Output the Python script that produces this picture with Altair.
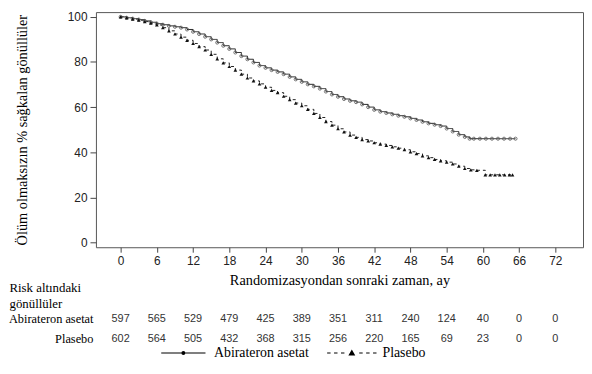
import altair as alt
import pandas as pd

groups = ["Abirateron asetat", "Plasebo"]

abi_month = [0, 1, 2, 3, 4, 5, 6, 7, 8, 9, 10, 11, 12, 13, 14, 15, 16, 17, 18, 19,
             20, 21, 22, 23, 24, 25, 26, 27, 28, 29, 30, 31, 32, 33, 34, 35, 36, 37, 38, 39,
             40, 41, 42, 43, 44, 45, 46, 47, 48, 49, 50, 51, 52, 53, 54, 55, 56, 57,
             57.8, 58.5, 59.5, 60.5, 61.5, 62.5, 63.5, 64.5, 65.4]
abi_surv = [100, 99.6, 99.2, 98.8, 98.2, 97.6, 97.0, 96.5, 96.0, 95.6, 95.2, 94.4, 93.4, 92.4,
            91.2, 90.0, 88.6, 87.2, 85.8, 84.2, 82.6, 81.2, 79.8, 78.4, 77.4, 76.4, 75.6, 74.6,
            73.4, 72.3, 71.2, 70.1, 69.2, 68.2, 66.9, 65.6, 64.6, 63.6, 62.8, 62.2, 61.2, 60.0,
            58.8, 58.0, 57.4, 56.8, 56.2, 55.7, 55.0, 54.3, 53.5, 52.8, 52.2, 51.6, 50.5, 49.2,
            47.8, 46.8, 46.0, 46.0, 46.0, 46.0, 46.0, 46.0, 46.0, 46.0, 46.0]

pla_month = [0, 1, 2, 3, 4, 5, 6, 7, 8, 9, 10, 11, 12, 13, 14, 15, 16, 17, 18, 19,
             20, 21, 22, 23, 24, 25, 26, 27, 28, 29, 30, 31, 32, 33, 34, 35, 36, 37, 38, 39,
             40, 41, 42, 43, 44, 45, 46, 47, 48, 49, 50, 51, 52, 53, 54, 55, 56, 57, 58, 59,
             60.4, 61.2, 62.0, 62.8, 63.6, 64.4, 64.9]
pla_surv = [100, 99.5, 99.0, 98.5, 97.9, 97.2, 96.4, 95.2, 93.8, 92.4, 91.0, 89.6, 88.2, 86.8,
            85.3, 83.4, 81.4, 79.6, 78.0, 76.4, 74.6, 72.9, 71.6, 70.3, 68.8, 67.4, 66.4, 64.8,
            63.3, 61.8, 60.6, 59.0, 57.2, 55.4, 53.6, 52.0, 50.4, 49.0, 47.6, 46.6, 45.6, 45.0,
            44.2, 43.6, 43.0, 42.4, 41.8, 41.1, 40.2, 39.4, 38.4, 37.6, 36.8, 36.2, 35.6, 34.8,
            33.8, 32.8, 32.2, 32.0, 30.0, 30.0, 30.0, 30.0, 30.0, 30.0, 30.0]

x_ticks = [0, 6, 12, 18, 24, 30, 36, 42, 48, 54, 60, 66, 72]
y_ticks = [0, 20, 40, 60, 80, 100]
risk_times = [0, 6, 12, 18, 24, 30, 36, 42, 48, 54, 60, 66, 72]
risk_abi = [597, 565, 529, 479, 425, 389, 351, 311, 240, 124, 40, 0, 0]
risk_pla = [602, 564, 505, 432, 368, 315, 256, 220, 165, 69, 23, 0, 0]

x_domain = [-4.09, 76.58]
y_domain = [-2.1, 102.1]

x_title = "Randomizasyondan sonraki zaman, ay"
y_title = "Ölüm olmaksızın % sağkalan gönüllüler"
risk_title = ["Risk altındaki", "gönüllüler"]

SERIF = "Liberation Serif"
SANS = "Liberation Sans"

km = pd.concat([
    pd.DataFrame({"month": abi_month, "surv": abi_surv, "group": groups[0]}),
    pd.DataFrame({"month": pla_month, "surv": pla_surv, "group": groups[1]}),
], ignore_index=True)

risk = pd.DataFrame({
    "month": risk_times + risk_times,
    "n": risk_abi + risk_pla,
    "group": [groups[0]] * len(risk_abi) + [groups[1]] * len(risk_pla),
})

xs = alt.Scale(domain=x_domain, nice=False, zero=False)
ys = alt.Scale(domain=y_domain, nice=False, zero=False)

base = alt.Chart(km)
line = base.mark_line(interpolate="step-after", color="#222", strokeWidth=1).encode(
    x=alt.X("month:Q", scale=xs,
            axis=alt.Axis(values=x_ticks, title=x_title, titleFontSize=14.5, titlePadding=8,
                          labelPadding=3, tickSize=5)),
    y=alt.Y("surv:Q", scale=ys,
            axis=alt.Axis(values=y_ticks, title=y_title, titleFontSize=14.5, titlePadding=38,
                          labelPadding=3, tickSize=6)),
    strokeDash=alt.StrokeDash("group:N",
                              scale=alt.Scale(domain=groups, range=[[1, 0], [3, 3]]),
                              legend=None),
)
pts_abi = base.transform_filter(alt.datum.group == groups[0]).mark_point(
    shape="circle", filled=False, size=10, color="#555", strokeWidth=0.8, opacity=1
).encode(x=alt.X("month:Q", scale=xs), y=alt.Y("surv:Q", scale=ys))
pts_pla = base.transform_filter(alt.datum.group == groups[1]).mark_point(
    shape="triangle-up", filled=True, size=14, color="#111", opacity=1
).encode(x=alt.X("month:Q", scale=xs), y=alt.Y("surv:Q", scale=ys))

km_chart = alt.layer(line, pts_abi, pts_pla).properties(
    width=493, height=238, view=alt.ViewBackground(stroke="#555", strokeWidth=1)
)

# legend keys drawn as filled shapes: a thin bar (solid or dashed) with a marker in the middle
path_abi = ("M-3.2,-0.07L3.2,-0.07L3.2,0.07L-3.2,0.07Z"
            "M0.3,0L0.21,0.21L0,0.3L-0.21,0.21L-0.3,0L-0.21,-0.21L0,-0.3L0.21,-0.21Z")
path_pla = ("M-3.57,-0.07L-3.07,-0.07L-3.07,0.07L-3.57,0.07Z"
            "M-2.57,-0.07L-2.07,-0.07L-2.07,0.07L-2.57,0.07Z"
            "M-1.57,-0.07L-1.07,-0.07L-1.07,0.07L-1.57,0.07Z"
            "M0,-0.5L0.5,0.36L-0.5,0.36Z"
            "M1.07,-0.07L1.57,-0.07L1.57,0.07L1.07,0.07Z"
            "M2.07,-0.07L2.57,-0.07L2.57,0.07L2.07,0.07Z"
            "M3.07,-0.07L3.57,-0.07L3.57,0.07L3.07,0.07Z")

table_text = alt.Chart(risk).mark_text(font=SANS, fontSize=11, color="#333").encode(
    x=alt.X("month:Q", scale=xs, axis=None),
    y=alt.Y("group:N", sort=groups,
            scale=alt.Scale(type="point", domain=groups, padding=0.5),
            axis=alt.Axis(title=risk_title, titleAngle=0, titleAlign="left",
                          titleBaseline="alphabetic", titleX=-88, titleY=-17,
                          titleFont=SERIF, titleFontSize=13, titleFontWeight="normal",
                          titleLineHeight=15.5, titleColor="black",
                          labelFont=SERIF, labelFontSize=12.5, labelColor="black",
                          labelPadding=3, ticks=False, domain=False, grid=False)),
    text=alt.Text("n:Q"),
)
legend_layer = alt.Chart(risk).transform_filter("false").mark_point(
    filled=True, color="black", opacity=1
).encode(
    x=alt.X("month:Q", scale=xs, axis=None),
    y=alt.Y("group:N", sort=groups),
    shape=alt.Shape("group:N", scale=alt.Scale(domain=groups, range=[path_abi, path_pla]),
                    legend=alt.Legend(title=None, orient="none", legendX=81.5, legendY=38,
                                      direction="horizontal", symbolSize=196,
                                      symbolStrokeWidth=0, symbolFillColor="black",
                                      labelFont=SERIF, labelFontSize=14, labelColor="black",
                                      labelOffset=24, columnPadding=17.5, padding=0))
)
table = alt.layer(table_text, legend_layer).properties(
    width=493, height=41, view=alt.ViewBackground(stroke=None)
)

chart = alt.vconcat(km_chart, table, spacing=62, bounds="flush").resolve_scale(
    shape="independent", strokeDash="independent"
).resolve_legend(shape="independent", strokeDash="independent").properties(
    padding={"left": 0, "top": 0, "right": 0, "bottom": 0}
).configure_axis(
    labelFont=SANS, labelFontSize=12, labelColor="#222", tickColor="#444",
    titleFont=SERIF, titleFontWeight="normal", titleColor="black", grid=False, domain=False
).configure_view(stroke=None)

chart.save("out.html", embed_options={"renderer": "svg", "actions": False})
